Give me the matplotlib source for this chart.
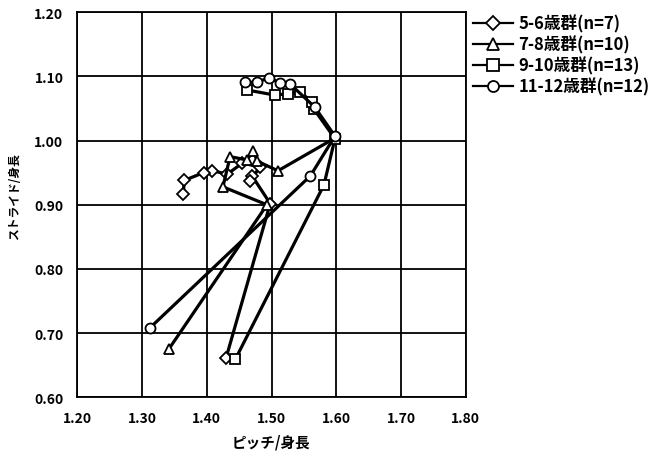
import matplotlib
matplotlib.use("Agg")
import matplotlib.pyplot as plt

plt.rcParams['font.family'] = ['Noto Sans CJK JP', 'DejaVu Sans']

# ピッチ/身長 と ストライド/身長
labels = ['5-6歳群(n=7)', '7-8歳群(n=10)', '9-10歳群(n=13)', '11-12歳群(n=12)']
markers = ['D', '^', 's', 'o']

pitch_56 = [1.43, 1.498, 1.470, 1.467, 1.482, 1.455, 1.432, 1.408, 1.395, 1.365, 1.364]
stride_56 = [0.662, 0.902, 0.945, 0.937, 0.959, 0.965, 0.948, 0.953, 0.950, 0.938, 0.917]

pitch_78 = [1.342, 1.493, 1.425, 1.436, 1.462, 1.472, 1.478, 1.510, 1.598]
stride_78 = [0.676, 0.900, 0.928, 0.975, 0.970, 0.984, 0.968, 0.953, 1.004]

pitch_910 = [1.444, 1.581, 1.598, 1.565, 1.563, 1.544, 1.525, 1.505, 1.462]
stride_910 = [0.659, 0.931, 1.003, 1.050, 1.060, 1.076, 1.073, 1.071, 1.079]

pitch_1112 = [1.312, 1.560, 1.598, 1.567, 1.529, 1.513, 1.496, 1.478, 1.459]
stride_1112 = [0.708, 0.945, 1.007, 1.052, 1.088, 1.090, 1.098, 1.091, 1.091]

xs = [pitch_56, pitch_78, pitch_910, pitch_1112]
ys = [stride_56, stride_78, stride_910, stride_1112]

fig = plt.figure(figsize=(6.51, 4.52), dpi=100)
ax = fig.add_axes([77.3 / 651, 1 - 398.3 / 452, (465.7 - 77.3) / 651, (398.3 - 13.3) / 452])

for x, y, m, lab in zip(xs, ys, markers, labels):
    ms = 6.5 if m == 'D' else 7.2
    ax.plot(x, y, color='black', lw=2.3, marker=m, ms=ms,
            mfc='white', mec='black', mew=1.3, label=lab, zorder=3)

ax.set_xlim(1.2, 1.8)
ax.set_ylim(0.6, 1.2)
ax.set_xticks([1.2, 1.3, 1.4, 1.5, 1.6, 1.7, 1.8])
ax.set_yticks([0.6, 0.7, 0.8, 0.9, 1.0, 1.1, 1.2])
ax.xaxis.set_major_formatter(matplotlib.ticker.FormatStrFormatter('%.2f'))
ax.yaxis.set_major_formatter(matplotlib.ticker.FormatStrFormatter('%.2f'))
ax.grid(True, color='black', lw=1.3)
ax.set_axisbelow(True)
for s in ax.spines.values():
    s.set_linewidth(1.3)
ax.tick_params(length=0, pad=10, labelsize=10)
for t in ax.get_xticklabels() + ax.get_yticklabels():
    t.set_fontweight('bold')

ax.set_xlabel('ピッチ/身長', fontsize=10.5, fontweight='bold', labelpad=6)
ax.set_ylabel('ストライド/身長', fontsize=8.5, fontweight='bold')
ax.yaxis.set_label_coords(-0.145, 0.525)

leg = ax.legend(loc='upper left', bbox_to_anchor=(1.018, 0.995), frameon=False,
                prop={'size': 12, 'weight': 'bold'}, handlelength=2.4,
                labelspacing=0.16, handletextpad=0.35, borderpad=0,
                borderaxespad=0, markerscale=1.1)
for h in leg.get_lines():
    h.set_linewidth(1.6)

fig.savefig('out.png', dpi=100)
